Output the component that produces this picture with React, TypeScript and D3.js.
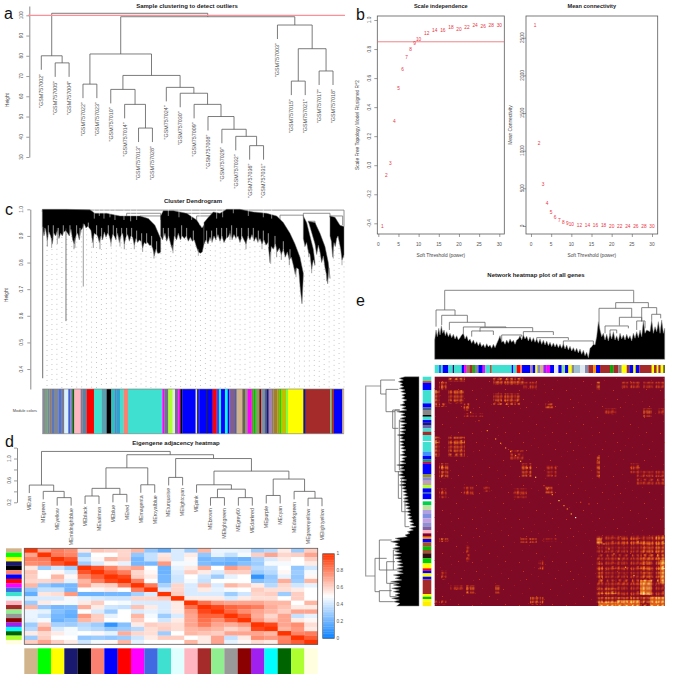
import React, { useRef, useEffect } from 'react';
import * as d3 from 'd3';

const FONT = '"Liberation Sans", Arial, sans-serif';
const LINE = '#5a5a5a';
const TEXT = '#444';

// a - sample tree, [height, left, right] or a leaf name
type Tree = string | [number, Tree, Tree];
const sampleTree: Tree = [101, [80, 'GSM757002', [76.5, 'GSM757005', 'GSM757004']],
  [99.3,
    [80.9, [66, 'GSM757022', 'GSM757023'],
      [70.3,
        [63.4, 'GSM757010', [56, 'GSM757014', [44.3, 'GSM757013', 'GSM757028']]],
        [64.4, 'GSM757024', [61.5, 'GSM757030', [56, 'GSM757009', [50, 'GSM757008', [43.7, 'GSM757029', [40.2, 'GSM757032', [35.6, 'GSM757036', 'GSM757031']]]]]]],
      ]],
    [95.2, 'GSM757003', [83.5, [67.5, 'GSM757015', 'GSM757021'], [72.5, 'GSM757017', 'GSM757018']]],
  ]];
const sampleTicks = [30, 40, 50, 60, 70, 80, 90, 100];

// b - soft threshold
const powers = [1, 2, 3, 4, 5, 6, 7, 8, 9, 10, 12, 14, 16, 18, 20, 22, 24, 26, 28, 30];
const scaleFit = [-0.417, -0.067, 0.016, 0.3, 0.532, 0.663, 0.745, 0.798, 0.837, 0.865, 0.91, 0.929, 0.933, 0.95, 0.94, 0.952, 0.961, 0.959, 0.966, 0.966];
const meanK = [2668, 1102, 549, 305, 181, 115, 80, 53, 40, 27, 13, 9, 7, 5, 3, 2, 2, 1, 1, 1];

// c - gene dendrogram, outline of the dense lobes as [position, height]
const lobeTops: [number, number][][] = [
  [[127, 1], [200, 1], [270, 0.998], [285, 0.985], [320, 0.985], [360, 0.975], [400, 0.975], [420, 0.975], [445, 0.965], [465, 0.94], [482, 0.89]],
  [[482, 0.975], [490, 0.995], [520, 0.995], [560, 0.985], [590, 0.96], [606, 0.93], [612, 0.94]],
  [[612, 0.95], [625, 0.97], [640, 0.99], [660, 0.985], [680, 1], [720, 1], [760, 0.99], [800, 0.985], [830, 0.975], [850, 0.95], [870, 0.91], [885, 0.87], [900, 0.82], [910, 0.76]],
  [[910, 0.975], [920, 0.95], [930, 0.9], [940, 0.85], [945, 0.8]],
  [[925, 0.955], [945, 0.95], [960, 0.91], [975, 0.86], [985, 0.8], [990, 0.74]],
  [[990, 0.975], [1005, 0.97], [1020, 0.94], [1032, 0.935]],
];
const lobeBottoms: [number, number][][] = [
  [[127, .93], [132, .9], [137, .925], [142, .885], [147, .915], [152, .9], [157, .87], [162, .91], [167, .9], [172, .92], [177, .89], [182, .91], [187, .9], [192, .915], [197, .92], [203, .91], [208, .9], [213, .925], [218, .885], [223, .87], [228, .9], [233, .91], [238, .885], [243, .92], [248, .93], [253, .945], [258, .93], [263, .935], [268, .93], [273, .92], [278, .875], [283, .91], [288, .905], [293, .9], [298, .875], [303, .9], [308, .885], [313, .915], [318, .895], [323, .91], [328, .9], [333, .875], [338, .905], [343, .9], [348, .885], [353, .91], [358, .875], [363, .9], [368, .91], [373, .87], [378, .895], [383, .905], [388, .88], [393, .9], [398, .895], [403, .865], [408, .89], [413, .875], [418, .885], [423, .88], [428, .855], [433, .875], [438, .87], [443, .875], [448, .865], [453, .865], [458, .855], [463, .825], [468, .85], [473, .835], [478, .835], [482, .84]],
  [[482, .9], [488, .885], [495, .91], [500, .88], [506, .9], [512, .87], [518, .845], [523, .9], [530, .885], [535, .91], [541, .885], [547, .9], [553, .89], [559, .9], [565, .88], [571, .895], [577, .88], [583, .885], [589, .86], [595, .84], [601, .835], [607, .84], [612, .87]],
  [[612, .87], [618, .885], [624, .87], [630, .895], [636, .875], [642, .9], [648, .885], [654, .905], [660, .88], [666, .9], [672, .875], [678, .89], [684, .895], [690, .91], [696, .885], [702, .905], [708, .89], [714, .9], [720, .875], [726, .9], [732, .885], [738, .87], [744, .9], [750, .885], [756, .905], [762, .88], [768, .895], [774, .875], [780, .89], [786, .87], [792, .885], [798, .865], [804, .875], [810, .8], [814, .86], [820, .85], [826, .87], [832, .84], [838, .855], [844, .83], [850, .85], [856, .82], [862, .84], [868, .81], [874, .82], [880, .79], [886, .755], [890, .78], [896, .775], [901, .7], [906, .645], [910, .75]],
  [[910, .89], [915, .86], [920, .875], [925, .84], [930, .83], [935, .775], [940, .81], [945, .79]],
  [[945, .87], [950, .83], [955, .865], [960, .84], [965, .8], [970, .825], [975, .78], [980, .75], [983, .72], [987, .78], [990, .74]],
  [[990, .9], [994, .88], [998, .82], [1002, .875], [1006, .86], [1010, .89], [1014, .9], [1018, .875], [1022, .85], [1026, .81], [1030, .82], [1032, .83]],
];
// position, lowest height, colour, width
const geneSpikes: [number, number, string, number][] = [
  [128, 0.365, '#888', 1.2], [198, 0.58, '#444', 0.7], [250, 0.71, '#888', 0.8], [225, 0.855, '#777', 0.7],
  [462, 0.815, '#777', 0.7], [519, 0.835, '#888', 0.7], [812, 0.795, '#999', 0.8], [1000, 0.815, '#888', 0.7],
  [888, 0.745, '#888', 0.7], [360, 0.86, '#888', 0.7], [155, 0.855, '#888', 0.7],
  [142, 0.86, '#555', 0.6], [172, 0.87, '#666', 0.6], [222, 0.85, '#555', 0.6], [280, 0.855, '#555', 0.6], [300, 0.85, '#555', 0.6], [333, 0.86, '#666', 0.6],
  [373, 0.85, '#555', 0.6], [403, 0.85, '#666', 0.6], [428, 0.84, '#555', 0.6], [595, 0.825, '#888', 0.6], [690, 0.885, '#666', 0.6], [738, 0.85, '#555', 0.6],
  [786, 0.85, '#666', 0.6], [830, 0.82, '#555', 0.6], [844, 0.81, '#555', 0.6], [868, 0.79, '#555', 0.6], [926, 0.82, '#666', 0.6], [935, 0.76, '#666', 0.6], [980, 0.73, '#555', 0.6], [1026, 0.79, '#777', 0.6],
];
// white streaks in the top of the mass: position, depth height
const geneNotches: [number, number][] = [[283, .965], [298, .975], [312, .965], [330, .97], [345, .96], [372, .96], [392, .955], [410, .96], [505, .975], [537, .97], [575, .96], [600, .94], [650, .965], [668, .97], [700, .985], [745, .975], [790, .97], [815, .965]];
// white gaps rising from the lower edge: position, height they reach
const geneGaps: [number, number][] = [[135, .93], [145, .94], [160, .94], [175, .93], [190, .94], [210, .94], [230, .94], [240, .93], [265, .95], [290, .94], [305, .93], [325, .94], [340, .94], [350, .93], [365, .93], [380, .93], [395, .93], [410, .92], [425, .91], [440, .91], [455, .9], [470, .88], [490, .93], [505, .93], [525, .93], [545, .94], [560, .93], [580, .92], [620, .92], [635, .92], [650, .93], [665, .93], [680, .93], [695, .94], [710, .93], [725, .93], [745, .93], [760, .93], [775, .92], [790, .92], [805, .91], [825, .9], [850, .88], [870, .85]];
// x0, x1, height, left end, right end
const geneLinks: [number, number, number, number, number][] = [
  [127, 1032, 0.997, 0.99, 0.935], [840, 910, 0.978, 0.96, 0.975], [910, 990, 0.985, 0.97, 0.97],
  [925, 945, 0.955, 0.95, 0.93], [990, 1028, 0.975, 0.97, 0.94], [380, 482, 0.985, 0.97, 0.97],
  [420, 482, 0.975, 0.965, 0.96], [590, 650, 0.975, 0.95, 0.98], [560, 640, 0.985, 0.98, 0.985],
];
const geneColors: [string, number][] = [
  ['#8a8a9a', 135], ['#7da07a', 143], ['#5a8fb0', 148], ['#9a7a60', 155], ['#5a78c0', 162], ['#808898', 175], ['#5070d0', 185], ['#7a7a90', 193],
  ['#d8f0ff', 205], ['#4060d0', 211], ['#8080c0', 217], ['#106010', 223], ['#ffb6c1', 242], ['#8a7a90', 248], ['#6080a0', 260], ['#ff0000', 282],
  ['#40e0d0', 305], ['#5aa0b0', 320], ['#000000', 334], ['#30c0c0', 343], ['#4090c0', 350], ['#30a0d0', 360], ['#40e0d0', 371], ['#fa8072', 384],
  ['#40e0d0', 487], ['#ff00ff', 493], ['#707090', 505], ['#adff2f', 518], ['#e0f0e0', 525], ['#8060a0', 535], ['#ff00ff', 541], ['#000000', 547],
  ['#0000ff', 587], ['#e0e0ff', 588], ['#ffff00', 591], ['#2020ff', 598], ['#0000ff', 620], ['#000000', 623], ['#0000ff', 638], ['#ff0000', 650],
  ['#4040ff', 657], ['#00ffff', 663], ['#0000ff', 675], ['#00ffff', 683], ['#0000ff', 688], ['#8060a0', 693], ['#80608a', 705], ['#5060a0', 710],
  ['#d2b48c', 727], ['#706050', 735], ['#80a070', 742], ['#ff00ff', 755], ['#808040', 760], ['#00c000', 767], ['#80a060', 778], ['#8b0000', 784],
  ['#8090a0', 794], ['#506090', 800], ['#191970', 806], ['#a080c0', 815], ['#8a7a70', 820], ['#a08030', 832], ['#c09000', 838], ['#00e000', 843],
  ['#c0c000', 858], ['#80ff40', 864], ['#ffff00', 910], ['#191970', 917], ['#a52a2a', 990], ['#80c080', 995], ['#a03030', 1002], ['#0000ff', 1027], ['#d2b48c', 1032],
];

// d - eigengenes
const moduleFills = ['#d2b48c', '#00ff00', '#ffff00', '#191970', '#000000', '#fa8072', '#0000ff', '#ff0000', '#ff00ff', '#4169e1', '#40e0d0', '#e0ffff', '#ffb6c1', '#a52a2a', '#90ee90', '#999999', '#8b0000', '#a020f0', '#00ffff', '#006400', '#adff2f', '#ffffe0'];
const eigenTree: Tree = [1.13,
  [0.515, 'MEtan', [0.4, 'MEgreen', [0.285, 'MEyellow', 'MEmidnightblue']]],
  [1.07,
    [0.83, [0.455, [0.315, 'MEblack', 'MEsalmon'], [0.345, 'MEblue', 'MEred']], [0.52, 'MEmagenta', 'MEroyalblue']],
    [1.0, [0.655, 'MEturquoise', 'MElightcyan'],
      [0.77,
        [0.52, 'MEpink', [0.44, [0.285, 'MEbrown', 'MElightgreen'], [0.285, 'MEgrey60', 'MEdarkred']]],
        [0.625, [0.325, 'MEpurple', 'MEcyan'], [0.4, 'MEdarkgreen', [0.275, 'MEgreenyellow', 'MElightyellow']]],
      ]],
  ]];
const adjacencyUpper = [
  [1, .72, .82, .78, .56, .64, .62, .6, .68, .28, .18, .42, .3, .68, .46, .46, .45, .3, .35, .55, .3, .62],
  [1, .83, .8, .3, .5, .5, .6, .28, .38, .56, .42, .55, .28, .45, .38, .48, .62, .72, .6, .62, .72],
  [1, .92, .4, .52, .68, .62, .22, .38, .58, .42, .52, .22, .25, .22, .2, .32, .42, .55, .5, .62],
  [1, .3, .42, .52, .45, .22, .22, .75, .48, .48, .24, .2, .18, .25, .3, .48, .48, .5, .55],
  [1, .92, .8, .68, .72, .5, .2, .45, .55, .7, .5, .75, .68, .35, .38, .5, .28, .4],
  [1, .9, .82, .6, .52, .2, .42, .62, .55, .42, .62, .62, .3, .35, .52, .3, .48],
  [1, .95, .62, .55, .22, .4, .5, .4, .3, .45, .5, .08, .28, .45, .28, .52],
  [1, .82, .5, .22, .4, .48, .38, .5, .5, .5, .25, .3, .7, .3, .68],
  [1, .82, .32, .6, .42, .65, .42, .68, .62, .55, .35, .6, .4, .45],
  [1, .42, .6, .42, .55, .45, .48, .5, .62, .58, .58, .55, .5],
  [1, .62, .42, .42, .42, .3, .4, .6, .62, .3, .62, .5],
  [1, .55, .55, .55, .42, .55, .58, .58, .5, .62, .5],
  [1, .85, .75, .72, .72, .72, .68, .68, .5, .68],
  [1, .95, .88, .85, .82, .7, .65, .55, .55],
  [1, .88, .78, .72, .68, .62, .72, .72],
  [1, .9, .7, .6, .72, .38, .45],
  [1, .75, .65, .72, .55, .52],
  [1, .95, .72, .78, .58],
  [1, .68, .75, .55],
  [1, .8, .82],
  [1, .9],
  [1],
];
const legendTicks = [0, 0.2, 0.4, 0.6, 0.8, 1];

// e - TOM plot, everything in gene order units
// left end, right end, height, left drop, right drop
const topBranches: [number, number, number, number, number][] = [
  [284, 851, 76, 135, 113], [258, 315, 135, 185, 151], [275, 352, 151, 180, 172], [298, 405, 172, 195, 186], [340, 468, 186, 205, 188],
  [390, 548, 188, 200, 200], [365, 430, 198, 215, 210], [455, 515, 210, 235, 215], [520, 610, 200, 215, 210], [560, 655, 218, 225, 225],
  [640, 730, 228, 240, 238], [797, 895, 113, 130, 128], [747, 845, 130, 195, 157], [808, 875, 157, 182, 168], [765, 835, 183, 205, 190],
  [875, 920, 128, 170, 148], [905, 932, 148, 165, 160], [780, 800, 195, 210, 205], [860, 885, 168, 195, 190],
];
const topMassEdge: [number, number][] = [[254, 225], [258, 195], [262, 215], [266, 190], [270, 210], [274, 182], [278, 205], [282, 195], [286, 212], [290, 200], [295, 215], [300, 205], [305, 218], [310, 208], [315, 222], [320, 212], [325, 225], [330, 218], [335, 210], [340, 205], [345, 222], [350, 212], [355, 228], [360, 222], [365, 235], [370, 225], [375, 238], [380, 230], [385, 242], [390, 232], [395, 245], [400, 238], [405, 248], [410, 236], [415, 246], [420, 240], [425, 250], [430, 238], [435, 248], [440, 236], [445, 225], [450, 212], [455, 232], [460, 228], [465, 238], [470, 225], [475, 235], [480, 222], [485, 232], [490, 226], [495, 238], [500, 225], [505, 222], [510, 212], [515, 225], [520, 210], [525, 222], [530, 214], [535, 228], [540, 216], [545, 230], [550, 218], [555, 232], [560, 222], [565, 235], [570, 222], [575, 238], [580, 226], [585, 240], [590, 228], [595, 242], [600, 232], [605, 245], [610, 234], [615, 246], [620, 236], [625, 248], [630, 238], [635, 250], [640, 236], [645, 252], [650, 240], [655, 255], [660, 244], [665, 258], [670, 248], [675, 260], [680, 250], [685, 264], [690, 252], [695, 268], [700, 256], [705, 272], [710, 262], [715, 278], [720, 250], [725, 245], [730, 238], [735, 240], [740, 215], [745, 170], [750, 195], [755, 215], [760, 205], [765, 225], [770, 208], [775, 228], [780, 205], [785, 222], [790, 200], [795, 225], [800, 212], [805, 228], [810, 205], [815, 222], [820, 210], [825, 225], [830, 208], [835, 222], [840, 212], [845, 228], [850, 205], [855, 220], [860, 200], [865, 218], [870, 195], [875, 215], [880, 168], [885, 205], [890, 195], [900, 200], [905, 165], [910, 205], [915, 185], [920, 200], [925, 170], [930, 205], [935, 165], [940, 205], [944, 190]];
// y-wise brackets: x, top y, bottom y, top end, bottom end
const leftBranches: [number, number, number, number, number][] = [
  [47, 48, 618, 92, 75], [92, 30, 72, 135, 108], [108, 58, 125, 145, 135], [135, 120, 305, 148, 148], [128, 120, 175, 150, 145],
  [148, 150, 300, 165, 160], [145, 305, 385, 165, 155], [155, 325, 425, 175, 172], [165, 385, 470, 180, 178], [75, 565, 665, 110, 88],
  [88, 510, 600, 125, 130], [110, 575, 640, 135, 130], [130, 540, 600, 145, 150], [88, 662, 695, 125, 130], [120, 640, 680, 145, 140],
];
const leftMassEdge: [number, number][] = [[20, 165], [25, 148], [30, 160], [35, 145], [40, 158], [45, 150], [50, 162], [55, 148], [60, 165], [65, 152], [70, 168], [75, 155], [80, 165], [85, 155], [90, 170], [95, 158], [100, 165], [105, 150], [110, 168], [115, 155], [120, 170], [125, 140], [130, 165], [135, 152], [140, 168], [145, 150], [150, 165], [155, 148], [160, 170], [165, 152], [170, 165], [175, 150], [180, 168], [185, 150], [190, 165], [195, 142], [200, 160], [205, 150], [210, 165], [215, 148], [220, 162], [225, 150], [230, 165], [235, 152], [240, 168], [245, 155], [250, 165], [255, 150], [260, 170], [265, 155], [270, 165], [275, 150], [280, 168], [285, 140], [290, 162], [295, 150], [300, 165], [305, 150], [310, 160], [315, 145], [320, 165], [325, 150], [330, 170], [335, 150], [340, 168], [345, 148], [350, 168], [355, 155], [360, 170], [365, 158], [370, 172], [375, 160], [380, 175], [385, 160], [390, 175], [395, 160], [400, 178], [405, 163], [410, 180], [415, 168], [420, 182], [425, 170], [430, 182], [435, 172], [440, 185], [445, 175], [450, 188], [455, 178], [460, 192], [465, 180], [470, 198], [475, 178], [480, 190], [485, 172], [490, 180], [495, 165], [500, 172], [505, 135], [510, 150], [515, 122], [520, 145], [525, 135], [530, 150], [535, 128], [540, 148], [545, 135], [550, 155], [555, 130], [560, 152], [565, 135], [570, 155], [575, 140], [580, 158], [585, 142], [590, 160], [595, 140], [600, 158], [605, 142], [610, 160], [615, 130], [620, 150], [625, 135], [630, 155], [635, 122], [640, 148], [645, 130], [650, 152], [655, 125], [660, 148], [665, 130], [670, 150], [675, 135], [680, 148], [685, 125], [690, 148], [695, 130], [700, 150], [708, 140]];
const topBand: [string, number][] = [
  ['#40e0d0', 268], ['#0000ff', 272], ['#40e0d0', 278], ['#0000ff', 295], ['#40e0d0', 308], ['#191970', 312], ['#40e0d0', 335], ['#0000ff', 342], ['#ff00ff', 350], ['#888844', 358], ['#a52a2a', 368], ['#00c000', 375], ['#8080a0', 385], ['#0000ff', 398], ['#ff00ff', 405], ['#40e0d0', 420], ['#a0522d', 425], ['#40e0d0', 485], ['#0000ff', 490], ['#40e0d0', 500], ['#ff0000', 510], ['#fa8072', 516], ['#0000ff', 540], ['#aa88aa', 548], ['#0000ff', 556], ['#ffff00', 562], ['#8888cc', 570], ['#d2b48c', 580], ['#a020f0', 590], ['#ff00ff', 600], ['#0000ff', 612], ['#e8e8f0', 625], ['#0000ff', 635], ['#90e090', 645], ['#0000ff', 655], ['#ffff00', 665], ['#888888', 672], ['#a0c0d0', 690], ['#e0e8f0', 705], ['#8888aa', 715], ['#a52a2a', 730], ['#ff9000', 738], ['#0000ff', 750], ['#a52a2a', 780], ['#00b000', 790], ['#a52a2a', 805], ['#888888', 815], ['#ffff00', 830], ['#a52a2a', 838], ['#0000ff', 850], ['#ffff00', 857], ['#0000ff', 868], ['#a52a2a', 905], ['#ffff00', 912], ['#a52a2a', 920], ['#ffff00', 925], ['#a52a2a', 932], ['#ffff00', 940], ['#444400', 944],
];
const leftBand: [string, number][] = [
  ['#40e0d0', 33], ['#ff4500', 38], ['#0000ff', 60], ['#40e0d0', 100], ['#0000ff', 112], ['#406090', 120], ['#888888', 135], ['#000000', 140], ['#40e0d0', 150], ['#0000ff', 158], ['#191970', 165], ['#6666aa', 175], ['#40e0d0', 185], ['#a52a2a', 195], ['#40e0d0', 213], ['#ffffff', 216], ['#40e0d0', 245], ['#4090ff', 258], ['#0000ff', 268], ['#00a070', 275], ['#ff0000', 280], ['#0000ff', 312], ['#909030', 322], ['#8888cc', 332], ['#c0a0b0', 345], ['#adff2f', 355], ['#0000ff', 366], ['#4060c0', 372], ['#0000ff', 388], ['#ffffff', 394], ['#00d050', 405], ['#c0e0a0', 420], ['#b0a0e0', 432], ['#8090e0', 445], ['#c0a0e0', 458], ['#9090d0', 470], ['#8060a0', 480], ['#ffb6c1', 490], ['#800030', 500], ['#ff8c00', 507], ['#0000ff', 517], ['#a0522d', 530], ['#00c000', 540], ['#a0522d', 550], ['#301010', 565], ['#00d000', 580], ['#ffff00', 595], ['#ff0000', 602], ['#0000ff', 610], ['#ffff00', 620], ['#0000ff', 628], ['#a52a2a', 672], ['#ffff00', 680], ['#00c000', 687], ['#ffff00', 695], ['#ffee00', 708],
];
// x0, x1, y0, y1, level
const hotBlocks: [number, number, number, number, string][] = [
  [255, 268, 60, 100, 'strong'], [268, 290, 35, 60, 'medium'], [295, 342, 60, 100, 'medium'], [295, 345, 22, 34, 'strong'], [430, 520, 22, 45, 'medium'], [430, 510, 70, 105, 'medium'],
  [255, 290, 100, 110, 'medium'], [340, 358, 100, 122, 'medium'], [520, 560, 35, 60, 'weak'], [585, 610, 100, 115, 'medium'], [740, 750, 35, 60, 'strong'], [880, 905, 115, 140, 'medium'],
  [815, 870, 35, 55, 'weak'], [880, 942, 35, 55, 'weak'], [255, 268, 200, 260, 'strong'], [295, 345, 200, 260, 'medium'], [268, 295, 280, 325, 'medium'], [515, 545, 280, 320, 'medium'],
  [590, 620, 285, 320, 'weak'], [740, 750, 255, 325, 'medium'], [860, 942, 300, 345, 'weak'], [268, 290, 355, 385, 'weak'], [340, 370, 350, 375, 'weak'], [490, 530, 355, 385, 'weak'],
  [585, 610, 350, 370, 'medium'], [268, 295, 505, 515, 'strong'], [510, 560, 505, 518, 'medium'], [580, 620, 505, 515, 'weak'], [348, 375, 645, 670, 'medium'], [300, 340, 645, 660, 'weak'],
  [435, 450, 645, 670, 'medium'], [540, 580, 680, 705, 'medium'], [565, 580, 570, 600, 'weak'], [348, 360, 525, 575, 'weak'], [270, 290, 600, 630, 'weak'], [255, 290, 690, 705, 'weak'],
  [760, 800, 115, 135, 'weak'], [925, 942, 115, 135, 'weak'], [840, 870, 280, 310, 'weak'], [400, 420, 350, 365, 'weak'], [480, 520, 240, 270, 'weak'], [340, 400, 130, 140, 'weak'],
  [740, 944, 495, 708, 'weak'], [740, 755, 505, 520, 'bright'], [815, 870, 505, 520, 'medium'], [870, 905, 510, 640, 'medium'], [905, 944, 495, 520, 'strong'], [920, 944, 520, 640, 'strong'],
  [930, 944, 570, 640, 'bright'], [745, 760, 580, 640, 'medium'], [745, 800, 655, 672, 'strong'], [870, 905, 630, 675, 'bright'], [745, 944, 680, 708, 'strong'], [800, 870, 690, 708, 'bright'],
  [900, 944, 680, 708, 'bright'], [800, 870, 625, 645, 'weak'], [905, 925, 520, 570, 'medium'], [745, 800, 695, 708, 'bright'],
];
const hotSpecks: [number, number, string][] = [
  [360, 125, '#ff9020'], [385, 150, '#e04010'], [410, 180, '#ff9020'], [435, 205, '#ff9020'], [450, 218, '#ff9020'], [465, 232, '#ff9020'], [480, 243, '#ff9020'], [495, 255, '#ff9020'], [510, 272, '#ffb030'], [530, 292, '#ff9020'], [555, 320, '#ffc040'], [580, 345, '#e04010'],
  [590, 355, '#ff9020'], [605, 372, '#ff9020'], [625, 390, '#ffe060'], [640, 405, '#ff9020'], [650, 415, '#ff9020'], [662, 430, '#ffb030'], [675, 441, '#fff8d0'], [760, 520, '#ffb030'], [775, 535, '#ff9020'], [790, 550, '#ff9020'], [805, 565, '#ffb030'], [825, 590, '#ffb030'], [850, 615, '#ffb030'], [715, 400, '#e04010'], [690, 395, '#e04010'],
];

// texture of the hot regions, one digit per cell, 0 coolest
const hotTile = [
  '003100230010023100103200',
  '013200130020012000203100',
  '000000010000001000000000',
  '120310231120231012301210',
  '231320332130322023312310',
  '010100120010110000100100',
  '000100010000100010000000',
  '130210231010230120302100',
  '230320322120321031302200',
  '120210210010220020201100',
  '000000000000000000000000',
  '010100130010120010100100',
  '120210230020230021201200',
  '231320333130332032302310',
  '130310220010220020301200',
  '000000010000010000100000',
  '010100010010000010000100',
  '230320231020232021302210',
  '120210120010120010201100',
  '000000000000000000000000',
  '120210230010231020302200',
  '231310321020320031301300',
  '010000100000100000100000',
  '000100010010000100010000',
];
const levelRamps: Record<string, string[]> = {
  weak: ['none', '#9a1420', '#c8340f', '#e8601a'],
  medium: ['none', '#c8340f', '#e8601a', '#f79020'],
  strong: ['#8e1020', '#d8400f', '#f07f18', '#fbb030'],
  bright: ['#e8601a', '#f79a20', '#fcd050', '#fff3b0'],
};
const sprinkle = [[2, 3], [11, 1], [17, 8], [6, 12], [14, 15], [21, 17], [9, 20], [3, 21], [28, 5], [35, 2], [41, 11], [31, 14], [38, 19], [25, 24], [44, 26], [33, 30], [12, 29], [5, 34], [19, 37], [40, 36], [27, 40]];

const App: React.FC = () => {
  const svgRef = useRef<SVGSVGElement>(null);

  useEffect(() => {
    if (!svgRef.current) return;
    const svg = d3.select(svgRef.current);
    svg.selectAll('g').remove();
    const root = svg.append('g').attr('font-family', FONT);

    const label = (x: number, y: number, s: string, size: number, opts: any = {}) => {
      const t = root.append('text').attr('x', x).attr('y', y).attr('font-size', size)
        .attr('fill', opts.fill || TEXT).attr('text-anchor', opts.anchor || 'middle').text(s);
      if (opts.bold) t.attr('font-weight', 'bold').attr('fill', '#222');
      if (opts.rot) t.attr('transform', `rotate(${opts.rot} ${x} ${y})`);
      return t;
    };
    const segment = (path: string, stroke = LINE, width = 0.8) =>
      root.append('path').attr('d', path).attr('fill', 'none').attr('stroke', stroke).attr('stroke-width', width);

    // R style axis with rotated labels
    const leftAxis = (x: number, scale: d3.ScaleLinear<number, number>, ticks: number[], labelled: number[], fmt: (v: number) => string, labelX: number, showLine = true) => {
      const g = root.append('g').attr('transform', `translate(${x},0)`)
        .call(d3.axisLeft(scale).tickValues(ticks).tickSize(3).tickSizeOuter(0).tickFormat(() => ''));
      g.selectAll('line').attr('stroke', LINE).attr('stroke-width', 0.6);
      g.select('.domain').attr('stroke', showLine ? LINE : 'none').attr('stroke-width', 0.7);
      labelled.forEach(v => label(labelX, scale(v) + 1.6, fmt(v), 4.8, { fill: '#555' }).attr('transform', `rotate(-90 ${labelX} ${scale(v)})`));
    };
    const bottomAxis = (y: number, scale: d3.ScaleLinear<number, number>, ticks: number[]) => {
      const g = root.append('g').attr('transform', `translate(0,${y})`)
        .call(d3.axisBottom(scale).tickValues(ticks).tickSize(3).tickSizeOuter(0).tickFormat(() => ''));
      g.selectAll('line').attr('stroke', LINE).attr('stroke-width', 0.6);
      g.select('.domain').attr('stroke', 'none');
      ticks.forEach(v => label(scale(v), y + 11.5, String(v), 4.8, { fill: '#555' }));
    };

    // hclust style tree
    const drawTree = (tree: Tree, xOf: (s: string) => number, y: d3.ScaleLinear<number, number>, hang: number, gap: number, size: number, quote: boolean) => {
      const walk = (n: Tree, parentY: number): number => {
        if (typeof n === 'string') {
          const px = xOf(n);
          segment(`M${px},${parentY}V${parentY + hang}`);
          label(px, parentY + hang + gap, quote ? `"${n}"` : n, size, { anchor: 'end', fill: '#555' })
            .attr('transform', `rotate(-90 ${px} ${parentY + hang + gap})`).attr('dy', '0.35em');
          return px;
        }
        const ny = y(n[0]);
        const a = walk(n[1], ny);
        const b = walk(n[2], ny);
        segment(`M${a},${ny}H${b}`);
        const mid = (a + b) / 2;
        if (parentY >= 0) segment(`M${mid},${parentY}V${ny}`);
        return mid;
      };
      walk(tree, -1);
    };
    const leaves = (t: Tree): string[] => typeof t === 'string' ? [t] : [...leaves(t[1]), ...leaves(t[2])];

    // a ----------------------------------------------------
    const aLeaves = leaves(sampleTree);
    const aX = d3.scalePoint<string>().domain(aLeaves).range([41.3, 333]);
    const aY = d3.scaleLinear().domain([30, 104.6]).range([157, 6]);
    leftAxis(29.3, aY, sampleTicks, sampleTicks, d => String(d), 21);
    drawTree(sampleTree, s => aX(s) as number, aY, 14, 4, 5.4, true);
    root.append('line').attr('x1', 28).attr('x2', 345).attr('y1', aY(100)).attr('y2', aY(100)).attr('stroke', '#ff8f96').attr('stroke-width', 1.3);
    label(187, 8, 'Sample clustering to detect outliers', 6, { bold: true });
    label(9, 100, 'Height', 4.8, { rot: -90 });

    // b ----------------------------------------------------
    const bFrames = [
      { x0: 377.3, x1: 504.3, xr: [378.3, 499.3], title: 'Scale independence', ylab: 'Scale Free Topology Model Fit,signed R^2', ylabX: 359, tickX: 369 },
      { x0: 526, x1: 657.7, xr: [531, 652], title: 'Mean connectivity', ylab: 'Mean Connectivity', ylabX: 512, tickX: 522 },
    ];
    bFrames.forEach((f, idx) => {
      const x = d3.scaleLinear().domain([0, 30]).range(f.xr);
      root.append('rect').attr('x', f.x0).attr('y', 16).attr('width', f.x1 - f.x0).attr('height', 218).attr('fill', 'none').attr('stroke', LINE).attr('stroke-width', 0.8);
      const y = idx === 0
        ? d3.scaleLinear().domain([-0.4, 1]).range([223.3, 20])
        : d3.scaleLinear().domain([0, 2500]).range([226, 37.7]);
      const ticks = idx === 0 ? [-0.4, -0.2, 0, 0.2, 0.4, 0.6, 0.8, 1] : [0, 500, 1000, 1500, 2000, 2500];
      leftAxis(f.x0, y, ticks, ticks, v => (idx === 0 ? v.toFixed(1) : String(v)), f.tickX, false);
      bottomAxis(234, x, [0, 5, 10, 15, 20, 25, 30]);
      label((f.x0 + f.x1) / 2, 7.5, f.title, 5.6, { bold: true });
      label((f.x0 + f.x1) / 2, 257, 'Soft Threshold (power)', 4.8);
      label(f.ylabX, 125, f.ylab, 4.8, { rot: -90 });
      if (idx === 0) root.append('line').attr('x1', f.x0).attr('x2', f.x1).attr('y1', y(0.85)).attr('y2', y(0.85)).attr('stroke', '#e8666a').attr('stroke-width', 0.8);
      const vals = idx === 0 ? scaleFit : meanK;
      powers.forEach((p, i) => label(x(p), y(vals[i]) + 1.8, String(p), 4.8, { fill: '#e8333f' }));
    });

    // c ----------------------------------------------------
    const cX = d3.scaleLinear().domain([127, 1032]).range([42.3, 344]);
    const cY = d3.scaleLinear().domain([1, 0.325]).range([209.3, 389]);
    const edgeAt = lobeBottoms.map(b => d3.scaleLinear().domain(b.map(p => p[0])).range(b.map(p => p[1])));
    const lowestAt = (pos: number) => d3.min(lobeBottoms.flatMap((b, i) => (pos >= b[0][0] && pos <= b[b.length - 1][0] ? [edgeAt[i](pos)] : []))) as number;
    d3.range(47, 345, 4.95).forEach(px => {
      const low = lowestAt(cX.invert(px));
      const top = low !== undefined ? cY(low) : 215;
      root.append('line').attr('x1', px).attr('x2', px).attr('y1', top + 2).attr('y2', 388)
        .attr('stroke', '#a8a8a8').attr('stroke-width', 0.8).attr('stroke-dasharray', '0.8 4.2');
    });
    const massLine = d3.line<[number, number]>().x(d => cX(d[0])).y(d => cY(d[1]));
    geneLinks.forEach(([a, b, h, ha, hb]) => segment(`M${cX(a)},${cY(ha)}V${cY(h)}H${cX(b)}V${cY(hb)}`, '#777', 0.8));
    lobeTops.forEach((top, i) => {
      root.append('path').attr('d', (massLine([...top, ...[...lobeBottoms[i]].reverse()]) as string) + 'Z')
        .attr('fill', '#000').attr('stroke', '#777').attr('stroke-width', 0.5);
    });
    geneGaps.forEach(([p, h]) => segment(`M${cX(p)},${cY(lowestAt(p)) + 1}V${cY(h)}`, '#fff', 0.6));
    geneSpikes.forEach(([p, h, c, w]) => segment(`M${cX(p)},${cY(lowestAt(p) + 0.01)}V${cY(h)}`, c, w));
    geneNotches.forEach(([p, h]) => segment(`M${cX(p)},${cY(1)}V${cY(h)}`, '#fff', 0.5));
    leftAxis(30.3, cY, [0.4, 0.5, 0.6, 0.7, 0.8, 0.9, 1], [0.4, 0.5, 0.6, 0.7, 0.8, 0.9, 1], v => v.toFixed(1), 21);
    let prev = 127;
    geneColors.forEach(([c, end]) => {
      root.append('rect').attr('x', cX(prev)).attr('y', 389).attr('width', cX(end) - cX(prev) + 0.2).attr('height', 44.7).attr('fill', c);
      prev = end;
    });
    segment(`M${cX(127)},389H${cX(1032)}M${cX(127)},433.7H${cX(1032)}`, '#777', 0.6);
    label(193, 203, 'Cluster Dendrogram', 6, { bold: true });
    label(8, 295, 'Height', 4.8, { rot: -90 });
    label(37, 412, 'Module colors', 3.9, { anchor: 'end' });

    // d ----------------------------------------------------
    const dLeaves = leaves(eigenTree);
    const dX = d3.scalePoint<string>().domain(dLeaves).range([29.3, 322]);
    const dY = d3.scaleLinear().domain([0.2, 1.2]).range([502.3, 447.6]);
    leftAxis(17, dY, [0.2, 0.4, 0.6, 0.8, 1, 1.2], [0.2, 0.6, 1], v => v.toFixed(1), 9);
    drawTree(eigenTree, s => dX(s) as number, dY, 8, 2.5, 5.2, false);
    label(176, 445, 'Eigengene adjacency heatmap', 6, { bold: true });

    const heatColor = d3.scaleLinear<string>().domain([0, 0.5, 1]).range(['#0a80ff', '#ffffff', '#ff3300']);
    const hx = d3.scaleBand<number>().domain(d3.range(22)).range([24.3, 317.7]);
    const hy = d3.scaleBand<number>().domain(d3.range(22)).range([548.3, 644.3]);
    adjacencyUpper.forEach((row, r) => row.forEach((v, k) => {
      const c = r + k;
      root.append('rect').attr('x', hx(c) as number).attr('y', hy(r) as number).attr('width', hx.bandwidth() + 0.2).attr('height', hy.bandwidth() + 0.2).attr('fill', heatColor(v));
      root.append('rect').attr('x', hx(r) as number).attr('y', hy(c) as number).attr('width', hx.bandwidth() + 0.2).attr('height', hy.bandwidth() + 0.2).attr('fill', heatColor(v));
    }));
    root.append('rect').attr('x', 24.3).attr('y', 548.3).attr('width', 293.4).attr('height', 96).attr('fill', 'none').attr('stroke', LINE).attr('stroke-width', 0.8);
    moduleFills.forEach((c, i) => {
      root.append('rect').attr('x', 6).attr('y', hy(i) as number).attr('width', 15.7).attr('height', hy.bandwidth() + 0.1).attr('fill', c);
      root.append('rect').attr('x', hx(i) as number).attr('y', 648.3).attr('width', hx.bandwidth() + 0.1).attr('height', 25.7).attr('fill', c);
    });
    const legY = d3.scaleLinear().domain([0, 1]).range([638.3, 553.7]);
    d3.range(0, 1, 0.02).forEach(v => {
      root.append('rect').attr('x', 322.7).attr('y', legY(v + 0.02)).attr('width', 11.6).attr('height', legY(v) - legY(v + 0.02) + 0.3).attr('fill', heatColor(v + 0.01));
    });
    root.append('rect').attr('x', 322.7).attr('y', 553.7).attr('width', 11.6).attr('height', 84.6).attr('fill', 'none').attr('stroke', LINE).attr('stroke-width', 0.6);
    legendTicks.forEach(v => label(336.5, legY(v) + 1.7, String(v), 4.8, { anchor: 'start', fill: '#555' }));

    // e ----------------------------------------------------
    const geneX = d3.scaleLinear().domain([254, 944]).range([434.7, 664.7]);
    const geneY = d3.scaleLinear().domain([20, 708]).range([376.7, 606]);
    const topY = d3.scaleLinear().domain([76, 283]).range([290.3, 359.3]);
    const sideX = d3.scaleLinear().domain([47, 207]).range([365.7, 419]);
    label(536, 277, 'Network heatmap plot of all genes', 6, { bold: true });

    topBranches.forEach(([a, b, h, da, db], i) => segment(`M${geneX(a)},${topY(da)}V${topY(h)}H${geneX(b)}V${topY(db)}`, i === 0 ? '#888' : '#666', i === 0 ? 1 : 0.8));
    const topMass = d3.area<[number, number]>().x(d => geneX(d[0])).y0(topY(283)).y1(d => topY(d[1]));
    root.append('path').attr('d', topMass(topMassEdge) as string).attr('fill', '#000').attr('stroke', '#888').attr('stroke-width', 0.5);
    let pt = 254;
    topBand.forEach(([c, end]) => {
      root.append('rect').attr('x', geneX(pt)).attr('y', 365).attr('width', geneX(end) - geneX(pt) + 0.1).attr('height', 8).attr('fill', c);
      pt = end;
    });

    leftBranches.forEach(([x, a, b, ea, eb], i) => segment(`M${sideX(ea)},${geneY(a)}H${sideX(x)}V${geneY(b)}H${sideX(eb)}`, i === 0 ? '#999' : '#666', i === 0 ? 1.1 : 0.8));
    const sideMass = d3.area<[number, number]>().y(d => geneY(d[0])).x0(sideX(207)).x1(d => sideX(d[1]));
    root.append('path').attr('d', sideMass(leftMassEdge) as string).attr('fill', '#000').attr('stroke', '#888').attr('stroke-width', 0.5);
    let ps = 20;
    leftBand.forEach(([c, end]) => {
      root.append('rect').attr('x', 422.7).attr('y', geneY(ps)).attr('width', 8.6).attr('height', geneY(end) - geneY(ps) + 0.1).attr('fill', c);
      ps = end;
    });

    root.append('rect').attr('x', geneX(254)).attr('y', geneY(20)).attr('width', 230).attr('height', 229.3).attr('fill', '#7e0a25');
    root.append('rect').attr('x', geneX(254)).attr('y', geneY(20)).attr('width', 230).attr('height', 229.3).attr('fill', 'url(#sprinkle)');
    hotBlocks.forEach(([x0, x1, y0, y1, level]) => {
      root.append('rect').attr('x', geneX(x0)).attr('y', geneY(y0)).attr('width', geneX(x1) - geneX(x0)).attr('height', geneY(y1) - geneY(y0)).attr('fill', `url(#hot-${level})`);
    });
    hotSpecks.forEach(([x, y, c]) => {
      root.append('rect').attr('x', geneX(x)).attr('y', geneY(y)).attr('width', 1.2).attr('height', 1.2).attr('fill', c);
    });

    // panel letters
    [['a', 4, 19], ['b', 356, 20], ['c', 5, 215], ['d', 5, 447], ['e', 356, 306]].forEach(([s, x, y]) => {
      label(x as number, y as number, s as string, 16, { anchor: 'start', fill: '#111' });
    });
  }, []);

  return (
    <svg ref={svgRef} width={687} height={677} style={{ position: 'absolute', left: 0, top: 0, background: '#fff' }}>
      <defs>
        <pattern id="sprinkle" width={47} height={43} patternUnits="userSpaceOnUse">
          {sprinkle.map(([x, y], i) => <rect key={i} x={x} y={y} width={1} height={1} fill={i % 3 === 0 ? '#c8340f' : '#a01a1c'} />)}
        </pattern>
        {Object.entries(levelRamps).map(([name, ramp]) => (
          <pattern key={name} id={`hot-${name}`} width={25.2} height={25.2} patternUnits="userSpaceOnUse">
            {hotTile.flatMap((row, r) => row.split('').map((d, c) => (
              ramp[+d] === 'none' ? null : <rect key={`${r}-${c}`} x={c * 1.05} y={r * 1.05} width={1.1} height={1.1} fill={ramp[+d]} />
            )))}
          </pattern>
        ))}
      </defs>
    </svg>
  );
};

export default App;
